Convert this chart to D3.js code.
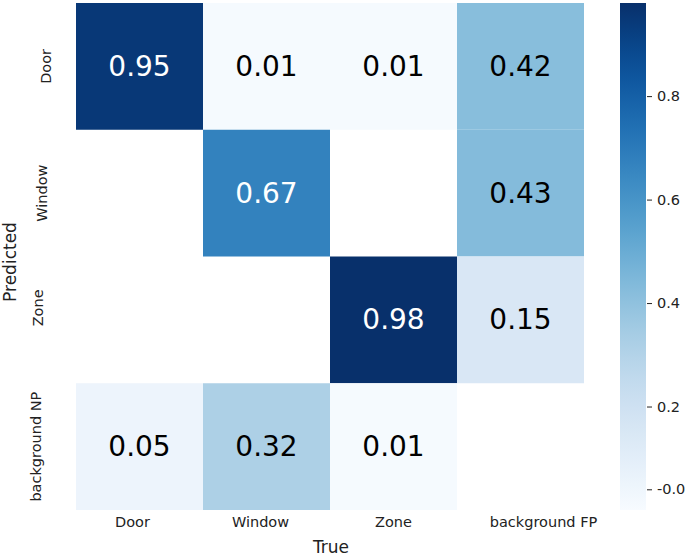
<!DOCTYPE html>
<html>
<head>
<meta charset="utf-8">
<script src="https://cdn.jsdelivr.net/npm/d3@7"></script>
<style>
  html, body { margin: 0; padding: 0; background: #fff; }
  text { font-family: "DejaVu Sans", sans-serif; }
</style>
</head>
<body>
<svg id="chart" width="685" height="558"></svg>
<script>
// ---- data ----
const predictedLabels = ["Door", "Window", "Zone", "background NP"];
const trueLabels = ["Door", "Window", "Zone", "background FP"];
// rows = predicted, cols = true; null = empty cell
const rowDoor   = [0.95, 0.01, 0.01, 0.42];
const rowWindow = [null, 0.67, null, 0.43];
const rowZone   = [null, null, 0.98, 0.15];
const rowBgNP   = [0.05, 0.32, 0.01, null];
const matrix = [rowDoor, rowWindow, rowZone, rowBgNP];
const colorDomain = [0, 0.98];
const colorTickValues = [0.04, 0.2, 0.4, 0.6, 0.8];
const colorTickLabels = ["-0.0", "0.2", "0.4", "0.6", "0.8"];

// ---- layout ----
const svg = d3.select("#chart");
const plotL = 76, plotT = 3, plotR = 584, plotB = 510;
const x = d3.scaleBand().domain(d3.range(4)).range([plotL, plotR]);
const y = d3.scaleBand().domain(d3.range(4)).range([plotT, plotB]);
const color = d3.scaleSequential(d3.interpolateBlues).domain(colorDomain);

const cells = [];
matrix.forEach((row, r) => row.forEach((v, c) => { if (v !== null) cells.push({r, c, v}); }));

svg.append("g").selectAll("rect").data(cells).join("rect")
  .attr("x", d => x(d.c)).attr("y", d => y(d.r))
  .attr("width", x.bandwidth()).attr("height", y.bandwidth())
  .attr("fill", d => color(d.v));

svg.append("g").selectAll("text").data(cells).join("text")
  .attr("x", d => x(d.c) + x.bandwidth() / 2)
  .attr("y", d => y(d.r) + y.bandwidth() / 2)
  .attr("text-anchor", "middle").attr("dominant-baseline", "central")
  .attr("font-size", 28)
  .attr("fill", d => d.v > 0.6 ? "#ffffff" : "#000000")
  .text(d => d.v.toFixed(2));

// x tick labels
const xLabelDx = [-7, -6, 0, 23];
svg.append("g").selectAll("text").data(trueLabels).join("text")
  .attr("x", (d, i) => x(i) + x.bandwidth() / 2 + xLabelDx[i])
  .attr("y", 527)
  .attr("text-anchor", "middle").attr("font-size", 14.5).attr("fill", "#222")
  .text(d => d);

// y tick labels (rotated)
const yLabelX = [51, 47, 43, 41];
const yLabelDy = [0, 0, -12, 0];
svg.append("g").selectAll("text").data(predictedLabels).join("text")
  .attr("transform", (d, i) => `translate(${yLabelX[i]},${y(i) + y.bandwidth() / 2 + yLabelDy[i]}) rotate(-90)`)
  .attr("text-anchor", "middle").attr("font-size", 14.5).attr("fill", "#222")
  .text(d => d);

// axis titles
svg.append("text").attr("x", 331).attr("y", 553)
  .attr("text-anchor", "middle").attr("font-size", 17).attr("fill", "#222").text("True");
svg.append("text").attr("transform", "translate(16,262) rotate(-90)")
  .attr("text-anchor", "middle").attr("font-size", 17).attr("fill", "#222").text("Predicted");

// colorbar
const cbX = 620, cbW = 26;
const cy = d3.scaleLinear().domain(colorDomain).range([plotB, plotT]);
const defs = svg.append("defs");
const grad = defs.append("linearGradient").attr("id", "cbgrad")
  .attr("x1", 0).attr("y1", 1).attr("x2", 0).attr("y2", 0);
d3.range(0, 1.0001, 0.05).forEach(t => {
  grad.append("stop").attr("offset", t)
    .attr("stop-color", color(colorDomain[0] + t * (colorDomain[1] - colorDomain[0])));
});
svg.append("rect").attr("x", cbX).attr("y", plotT).attr("width", cbW)
  .attr("height", plotB - plotT).attr("fill", "url(#cbgrad)");

const cbAxis = d3.axisRight(cy).tickValues(colorTickValues)
  .tickFormat((d, i) => colorTickLabels[i]).tickSize(5).tickPadding(5);
const cbg = svg.append("g").attr("transform", `translate(${cbX + cbW + 1},0)`).call(cbAxis);
cbg.select(".domain").remove();
cbg.selectAll(".tick line").attr("stroke", "#222");
cbg.selectAll(".tick text").attr("font-size", 14.5).attr("fill", "#222")
  .attr("font-family", "DejaVu Sans, sans-serif");
</script>
</body>
</html>
